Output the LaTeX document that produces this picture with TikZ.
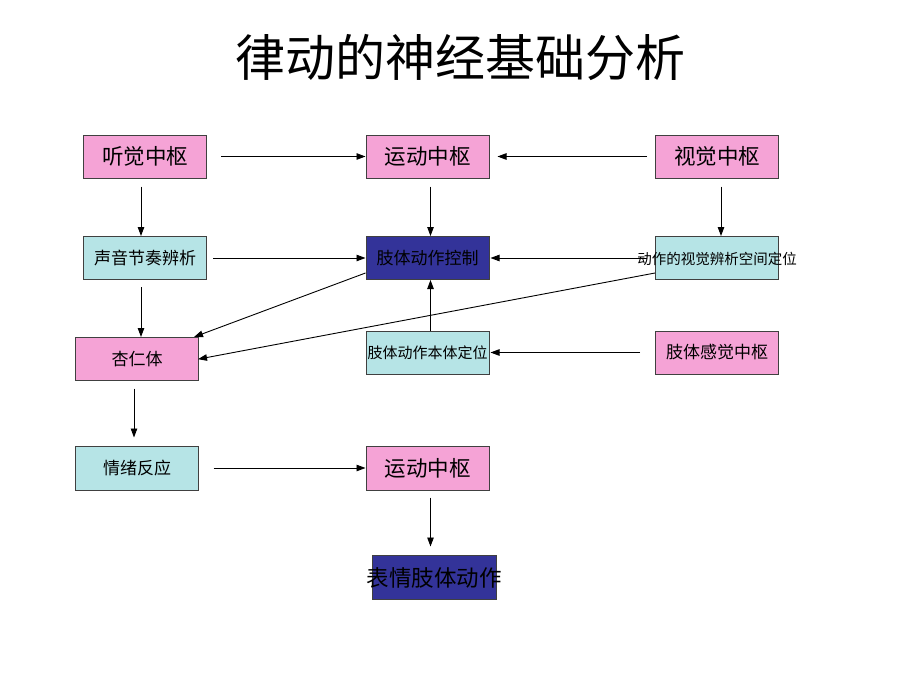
\documentclass[tikz,border=0pt]{standalone}
\usepackage{fontspec}
\setmainfont{Noto Sans CJK SC}
\usetikzlibrary{arrows.meta}
\definecolor{pinkbox}{HTML}{F5A3D6}
\definecolor{cyanbox}{HTML}{B6E4E6}
\definecolor{navybox}{HTML}{333399}
\definecolor{edge}{HTML}{404040}
\tikzset{
  box/.style={draw=edge, line width=1pt, minimum width=123pt, minimum height=43pt, inner sep=0pt, text=black},
  pinkb/.style={box, fill=pinkbox},
  cyanb/.style={box, fill=cyanbox},
  navyb/.style={box, fill=navybox},
  big/.style={font=\fontsize{21.5}{24}\selectfont},
  mid/.style={font=\fontsize{17}{20}\selectfont},
  arr/.style={line width=0.9pt, -{Triangle[length=9pt,width=6.5pt]}},
  ln/.style={line width=0.9pt}
}
\begin{document}
\begin{tikzpicture}[x=1pt,y=-1pt]
\useasboundingbox[fill=white] (0,0) rectangle (920,690);
\node[font=\fontsize{50}{56}\selectfont] (title) at (460,57) {律动的神经基础分析};

\node[pinkb,big] (a) at (145,156.5) {听觉中枢};
\node[pinkb,big] (m1) at (427.5,156.5) {运动中枢};
\node[pinkb,big] (v) at (717,156.5) {视觉中枢};

\node[cyanb,mid] (s) at (145,258) {声音节奏辨析};
\node[navyb,mid] (c) at (427.5,258) {肢体动作控制};
\node[cyanb] (d) at (717,258) {};

\node[pinkb,mid] (x) at (137,359) {杏仁体};
\node[cyanb,font=\fontsize{15}{18}\selectfont] (b) at (427.5,352.5) {肢体动作本体定位};
\node[pinkb,mid] (f) at (717,352.5) {肢体感觉中枢};

\node[cyanb,mid,minimum height=44pt] (e) at (137,468) {情绪反应};
\node[pinkb,big,minimum height=44pt] (m2) at (427.5,468) {运动中枢};
\node[navyb,minimum width=124pt,minimum height=44pt] (o) at (434.5,577) {};

% connectors
\draw[arr, shorten <=14pt] (a.east) -- (m1.west);
\draw[arr, shorten <=8pt, shorten >=8pt] (v.west) -- (m1.east);
\draw[arr, shorten <=8pt] ([xshift=-4pt]a.south) -- ([xshift=-4pt]s.north);
\draw[arr, shorten <=8pt] ([xshift=3pt]m1.south) -- ([xshift=3pt]c.north);
\draw[arr, shorten <=8pt] ([xshift=4pt]v.south) -- ([xshift=4pt]d.north);
\draw[arr, shorten <=6pt] (s.east) -- (c.west);
\draw[arr, shorten <=8pt, shorten >=1pt] (d.west) -- (c.east);
\draw[arr, shorten <=7pt] ([xshift=-4pt]s.south) -- ([xshift=4pt]x.north);
\draw[arr] ([yshift=7pt]c.south west) -- ([xshift=-5pt]x.north east);
\draw[arr, shorten >=-1pt] ([yshift=7pt]d.south west) -- (x.east);
\draw[arr, shorten <=8pt] ([xshift=3pt,yshift=-8pt]b.north) -- ([xshift=3pt]c.south);
\draw[arr, shorten <=15pt, shorten >=1pt] (f.west) -- (b.west -| b.east);
\draw[arr, shorten <=7.5pt, shorten >=8pt] ([xshift=-3pt]x.south) -- ([xshift=-3pt]e.north);
\draw[arr, shorten <=14.5pt] (e.east) -- (m2.west);
\draw[arr, shorten <=7pt, shorten >=8pt] ([xshift=3pt]m2.south) -- ([xshift=-4pt]o.north);

% overflowing labels drawn on top
\node[font=\fontsize{14.5}{16}\selectfont] (dt) at (717,259) {动作的视觉辨析空间定位};
\node[font=\fontsize{22.5}{26}\selectfont] (ot) at (434,578) {表情肢体动作};
\end{tikzpicture}
\end{document}
